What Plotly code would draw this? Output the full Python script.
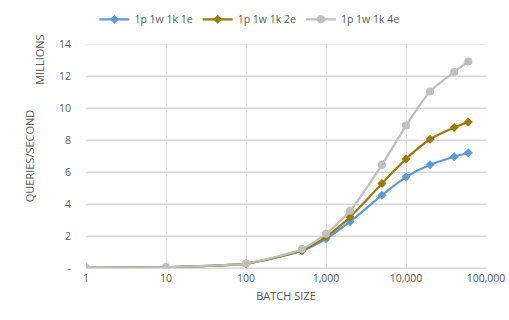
import plotly.graph_objects as go

batch = [1, 10, 100, 500, 1000, 2000, 5000, 10000, 20000, 40000, 60000]
s1e = [0.01, 0.05, 0.27, 1.08, 1.83, 2.9, 4.55, 5.68, 6.45, 6.95, 7.2]
s2e = [0.01, 0.05, 0.27, 1.1, 1.95, 3.18, 5.28, 6.82, 8.05, 8.78, 9.12]
s4e = [0.01, 0.06, 0.28, 1.18, 2.14, 3.58, 6.44, 8.9, 11.03, 12.25, 12.9]
names = ["1p 1w 1k 1e", "1p 1w 1k 2e", "1p 1w 1k 4e"]
colors = ["#5B9BD5", "#9C7A0A", "#BFBFBF"]
symbols = ["diamond", "diamond", "circle"]
yticks = [0, 2, 4, 6, 8, 10, 12, 14]
yticklabels = ["-", "2", "4", "6", "8", "10", "12", "14"]
xticks = [1, 10, 100, 1000, 10000, 100000]
xticklabels = ["1", "10", "100", "1,000", "10,000", "100,000"]

fig = go.Figure()
for name, ys, c, sym in zip(names, [s1e, s2e, s4e], colors, symbols):
    fig.add_trace(go.Scatter(
        x=batch, y=ys, name=name, mode="lines+markers",
        line=dict(color=c, width=2.2, shape="spline", smoothing=0.6),
        marker=dict(color=c, symbol=sym, size=7 if sym == "diamond" else 8),
    ))

font = dict(family="Open Sans, Noto Sans, sans-serif", size=11, color="#595959")
fig.update_layout(
    width=509, height=320,
    margin=dict(l=86, r=23, t=44, b=52, autoexpand=False),
    paper_bgcolor="white", plot_bgcolor="white",
    font=font,
    showlegend=True,
    legend=dict(orientation="h", x=0.49, xanchor="center", y=0.985, yanchor="top",
                xref="container", yref="container", font=dict(size=10.5, color="#595959"),
                itemwidth=30, tracegroupgap=0),
    xaxis=dict(type="log", range=[0, 5], tickvals=xticks, ticktext=xticklabels,
               showgrid=True, gridcolor="#D9D9D9", gridwidth=1,
               showline=True, linecolor="#D9D9D9", zeroline=False,
               ticks="", tickfont=dict(size=10.5),
               title=dict(text="BATCH SIZE", font=dict(size=11, color="#595959"), standoff=8)),
    yaxis=dict(range=[0, 14], tickvals=yticks, ticktext=yticklabels,
               showgrid=True, gridcolor="#D9D9D9", gridwidth=1,
               showline=False, zeroline=False,
               ticks="outside", ticklen=12, tickcolor="rgba(0,0,0,0)",
               tickfont=dict(size=10.5),
               title=dict(text="QUERIES/SECOND", font=dict(size=11, color="#595959"), standoff=22)),
)
for yv in yticks:
    fig.add_shape(type="line", xref="paper", yref="y", x0=0, x1=1, y0=yv, y1=yv,
                  line=dict(color="#D9D9D9", width=1), layer="below")
fig.add_annotation(text="MILLIONS", xref="paper", yref="paper", x=-0.115, y=1.05,
                   xanchor="center", yanchor="top", textangle=-90, showarrow=False,
                   font=dict(size=11, color="#595959"))
fig.write_html("out.html", config={"displayModeBar": False},
               post_script="document.body.style.margin='0';document.body.style.overflow='hidden';")
